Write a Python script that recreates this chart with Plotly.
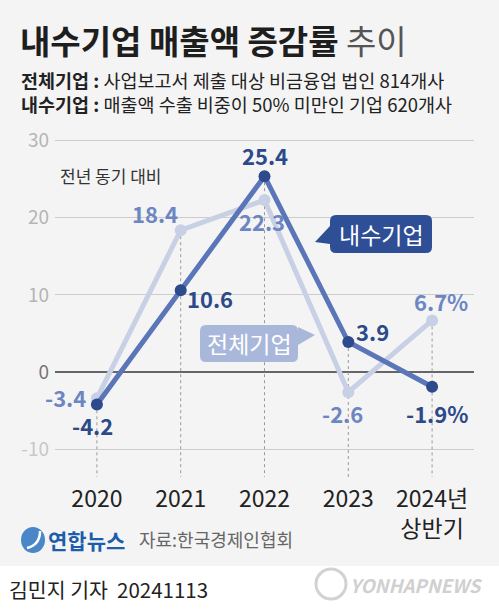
import plotly.graph_objects as go

# ---------------- data ----------------
categories = ["2020", "2021", "2022", "2023", "2024"]
tick_labels = ["2020", "2021", "2022", "2023", "2024년<br>상반기"]
domestic = [-4.2, 10.6, 25.4, 3.9, -1.9]      # 내수기업
total = [-3.4, 18.4, 22.3, -2.6, 6.7]         # 전체기업
y_ticks = [30, 20, 10, 0, -10]

FONT = "Noto Sans CJK KR"
W, H = 499, 614
L, R, T, B = 55, 25, 133, 137
PW, PH = W - L - R, H - T - B
YMIN, YMAX = -13.6, 31

def px(x):
    return (x - L) / PW

def py(y):
    return (H - B - y) / PH

fig = go.Figure()

# dotted guide lines from highest point down to bottom
for i, c in enumerate(categories):
    top = max(domestic[i], total[i])
    fig.add_trace(go.Scatter(x=[i, i], y=[top, YMIN], mode="lines",
                             line=dict(color="#9a9a9a", width=1, dash="dot"),
                             hoverinfo="skip", showlegend=False))

xs = list(range(len(categories)))
fig.add_trace(go.Scatter(x=xs, y=total, mode="lines+markers",
                         line=dict(color="#c8d0e5", width=5),
                         marker=dict(color="#c8d0e5", size=12),
                         showlegend=False, hoverinfo="skip"))
fig.add_trace(go.Scatter(x=xs, y=domestic, mode="lines+markers",
                         line=dict(color="#5b76b8", width=5),
                         marker=dict(color="#2c4a8c", size=12),
                         showlegend=False, hoverinfo="skip"))

def fmt(v, i):
    s = f"{v:.1f}"
    return s + ("%" if i == len(categories) - 1 else "")

dom_shift = [(-4, -20), (29, -8), (0, 21), (24, 11), (5, -26)]
tot_shift = [(-31, 1), (-26, 17), (-3, -21), (-6, -21), (9, 19)]
for i, v in enumerate(domestic):
    fig.add_annotation(x=i, y=v, text=f"<b>{fmt(v, i)}</b>", showarrow=False,
                       xshift=dom_shift[i][0], yshift=dom_shift[i][1],
                       font=dict(family=FONT, size=22, color="#2c4a8a"))
for i, v in enumerate(total):
    fig.add_annotation(x=i, y=v, text=f"<b>{fmt(v, i)}</b>", showarrow=False,
                       xshift=tot_shift[i][0], yshift=tot_shift[i][1],
                       font=dict(family=FONT, size=22, color="#6d86c2"))

shapes = []
# gray background
shapes.append(dict(type="rect", xref="paper", yref="paper", x0=px(0), x1=px(W),
                   y0=py(566), y1=py(0), fillcolor="#f4f4f4", line=dict(width=0), layer="below"))

def callout(x0, y0, x1, y1, r, tail, color, side):
    tx, ty = tail
    if side == "left":
        d = (f"M {px(x0+r)},{py(y0)} L {px(x1-r)},{py(y0)} Q {px(x1)},{py(y0)} {px(x1)},{py(y0+r)} "
             f"L {px(x1)},{py(y1-r)} Q {px(x1)},{py(y1)} {px(x1-r)},{py(y1)} "
             f"L {px(x0+r)},{py(y1)} Q {px(x0)},{py(y1)} {px(x0)},{py(y1-r)} "
             f"L {px(x0)},{py(ty+2)} L {px(tx)},{py(ty)} L {px(x0)},{py(ty-16)} "
             f"L {px(x0)},{py(y0+r)} Q {px(x0)},{py(y0)} {px(x0+r)},{py(y0)} Z")
    else:
        d = (f"M {px(x0+r)},{py(y0)} L {px(x1-r)},{py(y0)} Q {px(x1)},{py(y0)} {px(x1)},{py(y0+r)} "
             f"L {px(x1)},{py(ty-8)} L {px(tx)},{py(ty)} L {px(x1)},{py(ty+10)} "
             f"L {px(x1)},{py(y1-r)} Q {px(x1)},{py(y1)} {px(x1-r)},{py(y1)} "
             f"L {px(x0+r)},{py(y1)} Q {px(x0)},{py(y1)} {px(x0)},{py(y1-r)} "
             f"L {px(x0)},{py(y0+r)} Q {px(x0)},{py(y0)} {px(x0+r)},{py(y0)} Z")
    return dict(type="path", xref="paper", yref="paper", path=d, fillcolor=color,
                line=dict(width=0), layer="above")

shapes.append(callout(330, 215, 432, 253, 6, (315, 242), "#2e4f95", "left"))
shapes.append(callout(200, 325, 298, 362, 6, (315, 335), "#a9b7db", "right"))

# logo circles
shapes.append(dict(type="circle", xref="paper", yref="paper", x0=px(21), x1=px(45),
                   y0=py(553), y1=py(527), fillcolor="#4a86c8", line=dict(width=0), layer="above"))
shapes.append(dict(type="path", xref="paper", yref="paper",
                   path=f"M {px(27)},{py(548)} Q {px(40)},{py(545)} {px(40)},{py(531)}",
                   line=dict(width=2.5, color="white"), layer="above"))
shapes.append(dict(type="circle", xref="paper", yref="paper", x0=px(316), x1=px(346),
                   y0=py(599), y1=py(569), fillcolor="rgba(0,0,0,0)",
                   line=dict(width=3, color="#d2d2d2"), layer="above"))
fig.update_layout(shapes=shapes)

def ptext(x, y, text, size, color, xanchor="left", yanchor="middle"):
    fig.add_annotation(xref="paper", yref="paper", x=px(x), y=py(y), text=text,
                       showarrow=False, xanchor=xanchor, yanchor=yanchor,
                       font=dict(family=FONT, size=size, color=color))

ptext(330 + 51, 234, "내수기업", 23, "white", xanchor="center")
ptext(200 + 49, 343, "전체기업", 23, "white", xanchor="center")

ptext(18, 40, "<b>내수기업 매출액 증감률</b> <span style='color:#555'>추이</span>", 33, "#1e1e1e")
ptext(19, 80, "<b>전체기업 :</b> 사업보고서 제출 대상 비금융업 법인 814개사", 18.5, "#222")
ptext(19, 104, "<b>내수기업 :</b> 매출액 수출 비중이 50% 미만인 기업 620개사", 18.5, "#222")
ptext(58, 175, "전년 동기 대비", 17, "#333")

ptext(46, 540, "<b>연합뉴스</b>", 21, "#1d5eab")
ptext(137, 539, "자료:한국경제인협회", 18, "#666")
ptext(7, 589, "김민지 기자  20241113", 20.5, "#222")
ptext(348, 585, "<b><i>YONHAPNEWS</i></b>", 18.5, "#d0d0d0")

ytext = [f"<span style='color:{'#777' if v == 0 else ('#c8c8c8' if v < 0 else '#b5b5b5')}'>{v}</span>" for v in y_ticks]

fig.update_layout(
    width=W, height=H,
    margin=dict(l=L, r=R, t=T, b=B),
    paper_bgcolor="white", plot_bgcolor="rgba(0,0,0,0)",
    xaxis=dict(range=[-0.5, len(categories) - 0.5], tickvals=xs, ticktext=tick_labels,
               showgrid=False, zeroline=False, showline=False, ticks="",
               tickfont=dict(family=FONT, size=23, color="#222"), ticklabelstandoff=6),
    yaxis=dict(range=[YMIN, YMAX], tickvals=y_ticks, ticktext=ytext,
               showgrid=True, gridcolor="#cccccc", gridwidth=1,
               zeroline=True, zerolinecolor="#666666", zerolinewidth=1.5,
               showline=False, ticks="", ticklabelstandoff=5,
               tickfont=dict(family=FONT, size=19, color="#b5b5b5")),
    showlegend=False,
)

fig.write_html("out.html", config={"displayModeBar": False},
               post_script="document.body.style.margin='0';document.body.style.padding='0';")
